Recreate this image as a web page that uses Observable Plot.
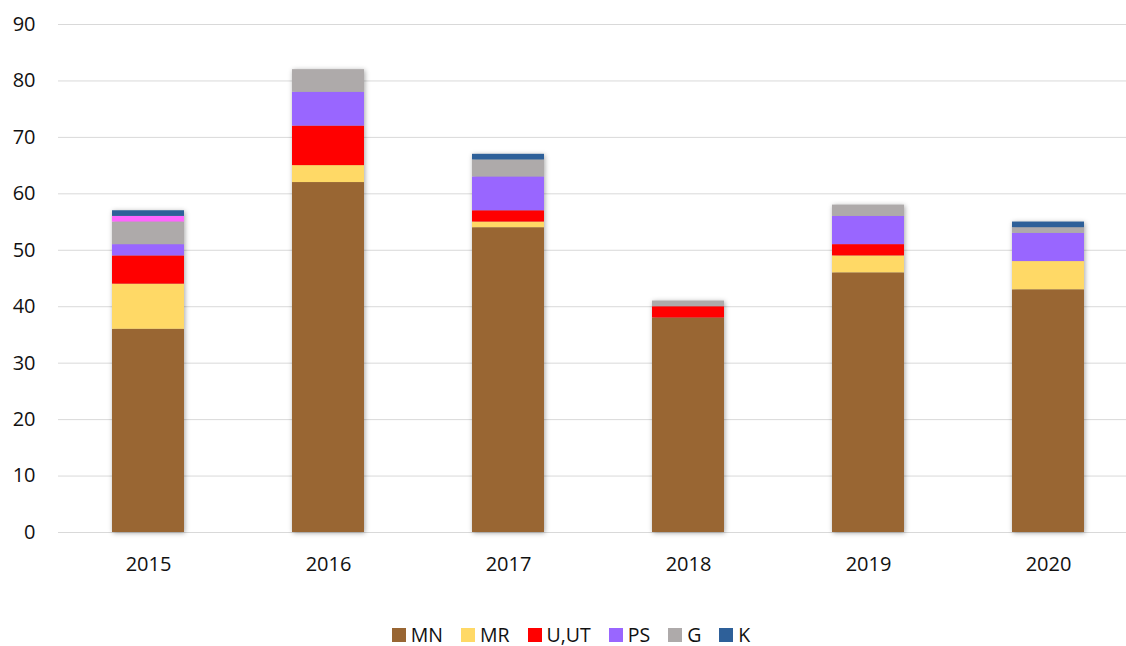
<!DOCTYPE html>
<html>
<head>
<meta charset="utf-8">
<script src="https://cdn.jsdelivr.net/npm/d3@7"></script>
<script src="https://cdn.jsdelivr.net/npm/@observablehq/plot@0.6"></script>
<style>
  html, body { margin: 0; padding: 0; background: #fff; }
  body { width: 1126px; height: 646px; overflow: hidden; font-family: "Open Sans", sans-serif; }
  #chart svg { display: block; }
  #chart g[aria-label="bar"] { filter: drop-shadow(1px 1px 2.5px rgba(0,0,0,0.35)); }
  #legend { display: flex; justify-content: center; align-items: center; margin-top: 24px; padding-left: 16px;
            font-family: "Open Sans", sans-serif; font-size: 19.5px; color: #111; height: 22px; line-height: 22px; }
  .item { display: flex; align-items: center; margin: 0 9px; }
  .sw { width: 14px; height: 14px; margin-right: 5px; }
</style>
</head>
<body>
<div id="chart"></div>
<div id="legend"></div>
<script>
const years = ["2015", "2016", "2017", "2018", "2019", "2020"];
const seriesNames = ["MN", "MR", "U,UT", "PS", "G", "Other", "K"];
const legendNames = ["MN", "MR", "U,UT", "PS", "G", "K"];
const colors = ["#996633", "#FFD966", "#FF0000", "#9966FF", "#AEAAAA", "#FF66FF", "#2E6099"];
const MN   = [36, 62, 54, 38, 46, 43];
const MR   = [8, 3, 1, 0, 3, 5];
const UUT  = [5, 7, 2, 2, 2, 0];
const PS   = [2, 6, 6, 0, 5, 5];
const G    = [4, 4, 3, 1, 2, 1];
const Other = [1, 0, 0, 0, 0, 0];
const K    = [1, 0, 1, 0, 0, 1];
const yTicks = [0, 10, 20, 30, 40, 50, 60, 70, 80, 90];

const seriesValues = [MN, MR, UUT, PS, G, Other, K];
const data = [];
seriesNames.forEach((s, i) => {
  years.forEach((y, j) => {
    data.push({year: y, series: s, value: seriesValues[i][j]});
  });
});

const chart = Plot.plot({
  width: 1126,
  height: 600,
  marginLeft: 58,
  marginRight: 0,
  marginTop: 24,
  marginBottom: 68,
  style: {fontFamily: "Open Sans, sans-serif", fontSize: "20px", color: "#111", background: "#fff"},
  x: {type: "band", domain: years, range: [58, 1138], paddingInner: 0.6, paddingOuter: 0.3},
  y: {domain: [0, 90]},
  color: {domain: seriesNames, range: colors},
  marks: [
    Plot.ruleY(yTicks, {stroke: "#d9d9d9", strokeWidth: 1}),
    Plot.barY(data, {x: "year", y: "value", fill: "series", order: seriesNames}),
    Plot.axisY(yTicks, {tickSize: 0, tickPadding: 23, label: null, fontSize: 20}),
    Plot.axisX({tickSize: 0, tickPadding: 24, label: null, fontSize: 20})
  ]
});
document.getElementById("chart").appendChild(chart);

const legend = document.getElementById("legend");
legendNames.forEach(n => {
  const it = document.createElement("div");
  it.className = "item";
  const sw = document.createElement("div");
  sw.className = "sw";
  sw.style.background = colors[seriesNames.indexOf(n)];
  const t = document.createElement("span");
  t.textContent = n;
  it.appendChild(sw);
  it.appendChild(t);
  legend.appendChild(it);
});
</script>
</body>
</html>
